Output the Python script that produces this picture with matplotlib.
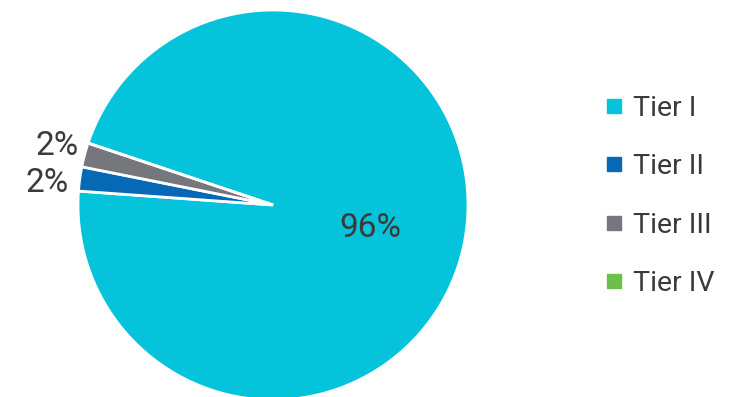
import numpy as np
import matplotlib
matplotlib.use('Agg')
import matplotlib.pyplot as plt
from matplotlib.lines import Line2D

plt.rcParams['font.family'] = ['Roboto', 'DejaVu Sans']

# data
tiers  = ['Tier I', 'Tier II', 'Tier III', 'Tier IV']
shares = [96, 2, 2, 0]
colors = ['#06C3DC', '#0569B5', '#75777C', '#6CC04A']
txtcol = '#3a3a3a'

fig = plt.figure(figsize=(7.35, 3.97), dpi=100)
# pie centred at (273,205) px, radius 195 px
ax = fig.add_axes([78/735, (397-400)/397, 390/735, 390/397])

wedges, _ = ax.pie(shares, colors=colors, startangle=161.5, counterclock=False,
                   radius=1.0, wedgeprops=dict(edgecolor='white', linewidth=2.0))
ax.set_xlim(-1, 1)
ax.set_ylim(-1, 1)
ax.set_aspect('equal')
ax.axis('off')

# percentage labels
ax.text(0.497, -0.118, f'{shares[0]}%', ha='center', va='center',
        fontsize=24, color=txtcol)
ax.text(-1.159, 0.113, f'{shares[1]}%', ha='center', va='center',
        fontsize=24, color=txtcol, clip_on=False)
ax.text(-1.108, 0.303, f'{shares[2]}%', ha='center', va='center',
        fontsize=24, color=txtcol, clip_on=False)

handles = [Line2D([], [], marker='s', linestyle='none', markersize=10,
                  markerfacecolor=c, markeredgecolor=c) for c in colors]
leg = fig.legend(handles, tiers, loc='upper left',
                 bbox_to_anchor=(603/735, 1 - 95/397), frameon=False,
                 fontsize=20.5, labelspacing=1.1, handlelength=0.75,
                 handletextpad=0.3, borderpad=0, borderaxespad=0)
for t in leg.get_texts():
    t.set_color(txtcol)

fig.savefig('out.png', dpi=100)
